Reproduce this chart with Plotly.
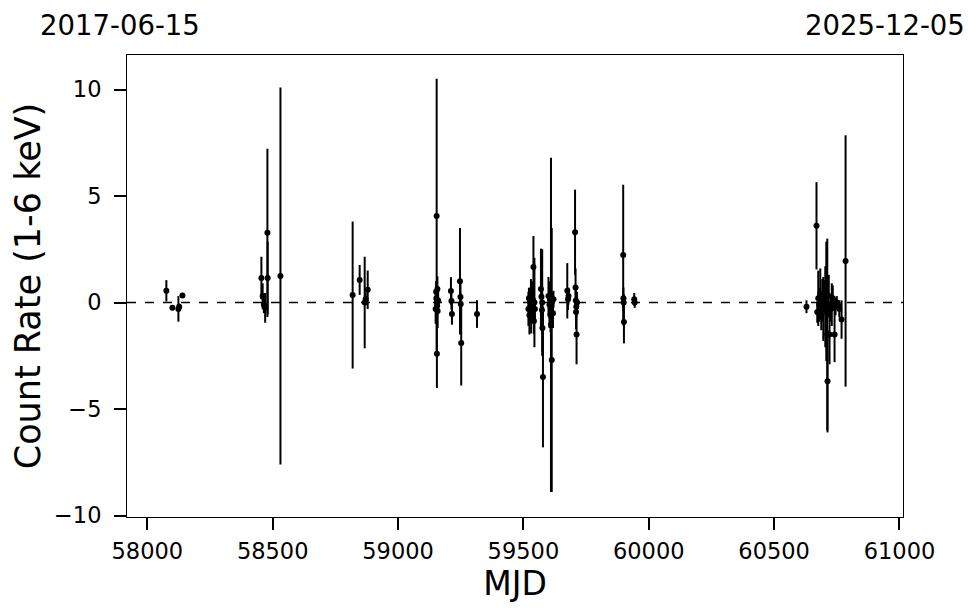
import plotly.graph_objects as go

# ---- data ----
mjd = [
    58076, 58100, 58124, 58127, 58140,
    58455, 58460, 58465, 58470, 58479, 58480, 58531,
    58819, 58847, 58867, 58871, 58879,
    59150, 59152, 59153, 59154, 59155, 59156, 59157, 59158, 59155, 59160,
    59211, 59213, 59215, 59247, 59249, 59250, 59252, 59315,
    59520, 59522, 59524, 59526, 59528, 59530, 59531, 59533, 59535, 59540, 59542, 59544, 59546,
    59570, 59572, 59574, 59576, 59578, 59575,
    59600, 59604, 59606, 59608, 59610, 59613, 59614, 59618, 59620,
    59675, 59678, 59680, 59706, 59708, 59709, 59710, 59712, 59714, 59711,
    59898, 59899, 59900, 59901, 59942, 59944,
    60629, 60669, 60672, 60676, 60680, 60684, 60688, 60692, 60696, 60700, 60704, 60708,
    60712, 60713, 60718, 60721, 60726, 60730, 60734, 60741, 60745, 60750, 60755, 60760, 60769, 60785,
]
rate = [
    0.55, -0.25, -0.3, -0.2, 0.33,
    1.15, 0.3, -0.1, -0.25, 3.27, 1.15, 1.24,
    0.35, 1.06, 0.0, 0.17, 0.6,
    -0.3, 0.5, 0.2, 4.06, 0.0, -0.15, 0.63, -0.4, -2.41, 0.1,
    0.54, 0.07, -0.54, 1.0, 0.26, -0.07, -1.9, -0.54,
    -0.3, 0.2, -0.6, 0.05, -0.2, 0.3, -0.45, -0.15, 0.1, 1.67, -0.87, 0.0, -0.3,
    0.63, 0.27, -0.35, -1.2, -3.5, 0.0,
    0.3, -0.1, 0.15, -0.6, -1.05, -2.7, 0.0, -0.5, 0.15,
    0.55, 0.15, 0.3, 3.3, 0.7, 0.1, -0.45, -1.5, 0.0, -0.2,
    2.23, 0.2, 0.0, -0.92, 0.15, 0.0,
    -0.2, 3.6, -0.45, 0.2, -0.1, 0.4, -0.6, 0.1, -0.3, 0.25, -0.2, 0.05,
    -1.5, -3.7, 0.3, -1.5, -0.3, -0.1, 0.2, -1.5, -0.2, 0.0, -0.1, -0.3, -0.8, 1.95,
]
err = [
    0.5, 0.1, 0.6, 0.15, 0.12,
    1.0, 0.6, 0.4, 0.7, 3.95, 1.7, 8.85,
    3.45, 0.7, 2.15, 0.3, 0.9,
    0.7, 0.5, 0.8, 6.45, 0.9, 0.6, 0.6, 0.8, 1.6, 0.5,
    0.65, 0.4, 0.5, 2.5, 0.7, 0.5, 2.0, 0.65,
    0.8, 0.5, 0.9, 0.6, 0.7, 0.8, 1.0, 0.5, 0.9, 1.45, 0.6, 2.1, 0.5,
    1.9, 0.6, 0.9, 1.1, 3.3, 2.5,
    0.9, 1.1, 0.6, 0.8, 7.85, 6.2, 0.5, 0.7, 0.4,
    1.3, 0.5, 0.4, 2.0, 0.9, 0.6, 0.8, 1.4, 0.5, 0.5,
    3.3, 0.5, 0.4, 1.0, 0.3, 0.25,
    0.3, 2.05, 0.5, 1.3, 0.8, 1.2, 0.7, 1.0, 1.5, 0.8, 1.9, 2.8,
    4.5, 2.4, 1.0, 1.4, 0.6, 1.0, 0.6, 1.3, 0.4, 0.3, 0.2, 0.4, 0.9, 5.9,
]

x_ticks = [58000, 58500, 59000, 59500, 60000, 60500, 61000]
y_ticks = [-10, -5, 0, 5, 10]
date_labels = ["2017-06-15", "2025-12-05"]
x_range = [57919, 61014]
y_range = [-10.07, 11.62]
x_title = "MJD"
y_title = "Count Rate (1-6 keV)"

FONT = "DejaVu Sans"

# page body has an 8px margin, so the figure is sized to fit inside the window
W, H = 964, 597
L, R, T, B = 119, 69, 47, 88
pw, ph = W - L - R, H - T - B

fig = go.Figure()
fig.add_trace(go.Scatter(
    x=mjd, y=rate, mode="markers",
    marker=dict(color="black", size=6),
    error_y=dict(type="data", array=err, visible=True, color="black",
                 thickness=2, width=0),
    showlegend=False,
))

fig.add_hline(y=0, line=dict(color="black", width=1.5, dash="dash"))

date_y = 1 + (T - 17) / ph
fig.add_annotation(text=date_labels[0], xref="paper", yref="paper",
                   x=(30 - L) / pw, y=date_y, xanchor="left", yanchor="middle",
                   showarrow=False, font=dict(family=FONT, size=27.5, color="black"))
fig.add_annotation(text=date_labels[1], xref="paper", yref="paper",
                   x=(959 - L) / pw, y=date_y, xanchor="right", yanchor="middle",
                   showarrow=False, font=dict(family=FONT, size=27.5, color="black"))

axis_common = dict(showline=True, linecolor="black", linewidth=1, mirror=True,
                   ticks="outside", ticklen=12, tickwidth=1.5, tickcolor="black",
                   showgrid=False, zeroline=False, automargin=False,
                   tickfont=dict(family=FONT, size=22.5, color="black"))

fig.update_xaxes(range=x_range, tickvals=x_ticks, ticktext=[str(v) for v in x_ticks],
                 ticklabelstandoff=2,
                 title=dict(text=x_title, font=dict(family=FONT, size=33, color="black"), standoff=6),
                 **axis_common)
fig.update_yaxes(range=y_range, tickvals=y_ticks, ticklabelstandoff=8,
                 title=dict(text=y_title, font=dict(family=FONT, size=35, color="black"), standoff=6),
                 **axis_common)

fig.update_layout(width=W, height=H,
                  margin=dict(l=L, r=R, t=T, b=B, pad=0),
                  plot_bgcolor="white", paper_bgcolor="white",
                  font=dict(family=FONT, color="black"))

fig.write_html("out.html")
